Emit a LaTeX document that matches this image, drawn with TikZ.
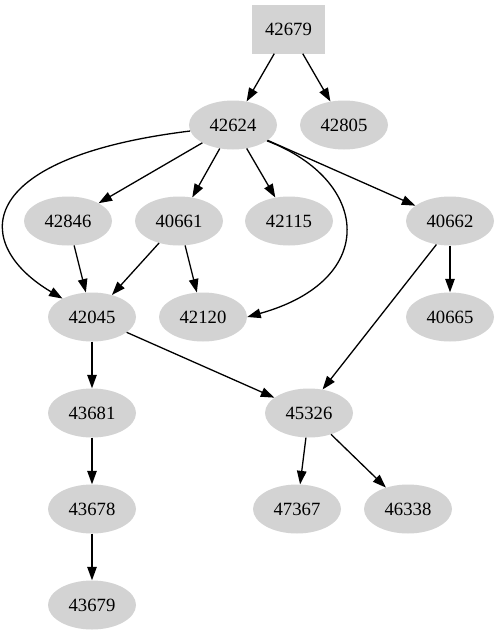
\documentclass[tikz,border=0pt]{standalone}
\usepackage{fontspec}
\setmainfont{Liberation Serif}
\usetikzlibrary{arrows.meta,shapes.geometric}
\begin{document}
\begin{tikzpicture}[x=1pt,y=-1pt,
  every node/.style={font=\fontsize{18.7}{20}\selectfont, inner sep=0pt},
  oval/.style={ellipse, fill={rgb,255:red,211;green,211;blue,211}, minimum width=88pt, minimum height=49pt},
  sq/.style={rectangle, fill={rgb,255:red,211;green,211;blue,211}, minimum width=73pt, minimum height=49pt},
  edge/.style={line width=1.3pt, -{Triangle[length=13.5pt,width=9.5pt]}}]
\useasboundingbox (0,0) rectangle (498,635);
\node[sq] (n42679) at (288.5,29) {42679};
\node[oval] (n42624) at (233,125) {42624};
\node[oval] (n42805) at (344,125) {42805};
\node[oval] (n42846) at (68,221) {42846};
\node[oval] (n40661) at (179,221) {40661};
\node[oval] (n42115) at (289,221) {42115};
\node[oval] (n40662) at (450,221) {40662};
\node[oval] (n42045) at (92,317) {42045};
\node[oval] (n42120) at (203,317) {42120};
\node[oval] (n40665) at (450,317) {40665};
\node[oval] (n43681) at (92,413) {43681};
\node[oval] (n45326) at (309,413) {45326};
\node[oval] (n43678) at (92,509) {43678};
\node[oval] (n47367) at (297,509) {47367};
\node[oval] (n46338) at (408,509) {46338};
\node[oval] (n43679) at (92,605) {43679};

\draw[edge] (n42679) -- (n42624);
\draw[edge] (n42679) -- (n42805);
\draw[edge] (n42624) -- (n42846);
\draw[edge] (n42624) -- (n40661);
\draw[edge] (n42624) -- (n42115);
\draw[edge] (n42624) -- (n40662);
\draw[edge] (n42624.188) .. controls (-30,158) and (-28,245) .. (n42045.148);
\draw[edge] (n42624.-25) .. controls (370,180) and (380,280) .. (n42120.east);
\draw[edge] (n42846) -- (n42045);
\draw[edge] (n40661) -- (n42045);
\draw[edge] (n40661) -- (n42120);
\draw[edge] (n40662) -- (n40665);
\draw[edge] (n40662.-120) -- (n45326.60);
\draw[edge] (n42045) -- (n43681);
\draw[edge] (n42045) -- (n45326);
\draw[edge] (n43681) -- (n43678);
\draw[edge] (n43678) -- (n43679);
\draw[edge] (n45326) -- (n47367);
\draw[edge] (n45326) -- (n46338);
\end{tikzpicture}
\end{document}
